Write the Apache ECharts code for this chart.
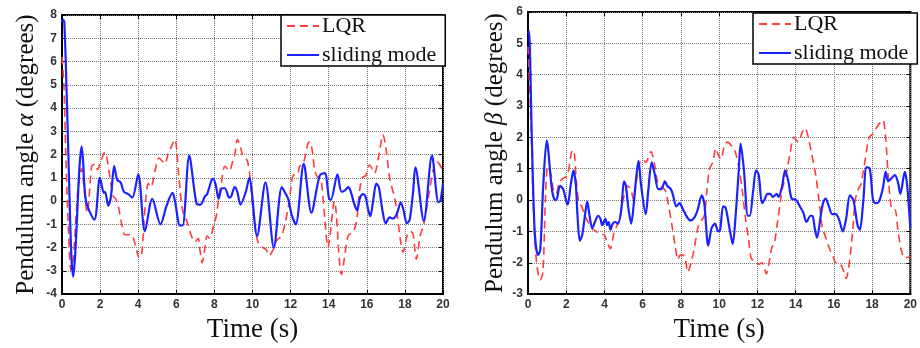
<!DOCTYPE html>
<html><head><meta charset="utf-8">
<script src="https://cdn.jsdelivr.net/npm/echarts@6/dist/echarts.min.js"></script>
<style>html,body{margin:0;padding:0;background:#fff}#c{width:920px;height:348px}</style>
</head><body><div id="c"></div>
<script>
// Pendulum angle alpha, sliding mode controller [time s, degrees]
const alphaSliding = [[0,7.7],[0.05,7.8],[0.12,7.7],[0.25,4.5],[0.4,0],[0.5,-2.5],[0.59,-3.25],[0.7,-2.2],[0.8,-0.5],[0.92,1.5],[1.03,2.35],[1.1,1.8],
[1.26,0.0],[1.7,-0.8],[1.99,1.0],[2.2,0.35],[2.26,0.4],[2.43,-0.2],[2.57,0.2],[2.74,1.5],[2.9,0.9],[3.08,0.8],[3.25,0.4],[3.48,0.3],[3.69,0.15],[4.0,1.15],
[4.35,-1.3],[4.74,0.1],[5.17,-1.0],[5.49,-0.2],[5.8,0.35],[5.93,0.0],[6.19,-1.05],[6.33,-1.05],[6.68,1.95],[7.06,-0.1],[7.27,-0.15],[7.5,0.2],[7.62,0.3],
[7.85,0.9],[7.94,0.95],[8.08,0.65],[8.22,0.1],[8.39,0.55],[8.55,0.55],[8.78,0.15],[8.88,0.2],[9.07,0.6],[9.2,0.4],[9.37,-0.15],[9.65,0.4],[9.83,1.0],
[10.24,-1.5],[10.68,0.8],[11.12,-2.0],[11.54,0.6],[11.75,0.3],[11.87,0.1],[12.06,-0.6],[12.27,-1.0],[12.69,1.6],[13.09,-0.5],[13.53,1.1],[13.79,1.2],
[14.02,0.1],[14.11,0.05],[14.46,1.15],[14.67,0.4],[14.84,0.45],[15.02,0.6],[15.14,0.45],[15.37,-0.2],[15.49,-0.4],[15.63,0.1],[15.8,0.3],[15.93,0.2],
[16.08,-0.4],[16.19,-0.65],[16.33,0.0],[16.5,0.75],[16.63,0.6],[16.82,-0.4],[16.99,-0.95],[17.2,-0.7],[17.38,-0.75],[17.55,-0.6],[17.64,-0.4],[17.78,-0.05],
[17.9,-0.3],[18.11,-0.95],[18.25,-0.8],[18.43,0.4],[18.55,1.45],[18.99,-0.85],[19.42,1.95],[19.76,-0.05],[19.86,0.0],[20,0.75]];

// Pendulum angle alpha, LQR controller
const alphaLqr = [[0,6.2],[0.1,5.0],[0.2,2.0],[0.35,-1.5],[0.47,-2.97],[0.58,-2.6],[0.75,-0.5],[0.85,0.6],[1.03,1.4],[1.1,1.0],[1.33,-0.5],[1.56,1.5],
[1.73,1.6],[1.87,1.35],[1.99,1.6],[2.26,2.1],[2.34,1.95],[2.52,1.0],[2.69,0.2],[2.81,0.1],[2.95,-0.2],[3.16,-1.1],[3.3,-1.45],[3.57,-1.45],[3.71,-1.5],
[3.88,-2.0],[4.06,-2.45],[4.18,-2.3],[4.3,-1.0],[4.41,0.2],[4.53,0.75],[4.67,0.6],[4.88,1.3],[5.1,1.85],[5.28,1.7],[5.4,1.6],[5.61,2.15],[5.72,2.3],
[5.93,2.65],[6.01,2.3],[6.14,1.0],[6.33,-0.4],[6.57,-0.9],[6.75,-1.4],[6.98,-1.75],[7.15,-1.6],[7.24,-2.1],[7.36,-2.65],[7.47,-2.2],[7.62,-1.5],
[7.76,-1.6],[7.97,-1.0],[8.11,-0.6],[8.25,0.3],[8.37,0.8],[8.55,1.5],[8.78,1.3],[8.99,1.8],[9.07,2.0],[9.21,2.65],[9.37,2.3],[9.51,1.9],[9.72,1.75],
[9.86,1.1],[9.98,0.0],[10.12,-1.0],[10.3,-1.8],[10.56,-2.0],[10.73,-2.1],[10.87,-2.35],[11.08,-2.1],[11.26,-1.7],[11.52,-1.5],[11.7,-1.0],[11.87,-0.3],
[12.01,0.5],[12.13,1.1],[12.36,1.15],[12.48,1.5],[12.66,1.6],[12.92,2.5],[13.01,2.55],[13.15,2.1],[13.27,1.3],[13.44,1.0],[13.6,0.9],[13.8,-0.8],
[13.96,-2.0],[14.3,0.0],[14.67,-3.15],[15.02,-1.5],[15.3,-1.3],[15.45,-0.9],[15.54,-0.3],[15.63,0.5],[15.77,1.0],[15.95,1.1],[16.15,1.55],[16.4,1.2],
[16.64,2.0],[16.85,2.85],[17.0,2.3],[17.2,1.0],[17.47,0.1],[17.6,-0.6],[17.75,-1.6],[17.9,-2.2],[18.11,-1.5],[18.29,-1.3],[18.42,-1.4],[18.6,-2.5],
[18.8,-1.5],[18.99,-1.0],[19.3,0.5],[19.53,1.5],[19.68,1.7],[20,1.3]];

// Pendulum angle beta, sliding mode controller
const betaSliding = [[0,5.3],[0.05,5.4],[0.2,2.0],[0.35,-1.0],[0.52,-1.75],[0.64,-1.6],[0.8,0.5],[0.98,1.9],[1.26,0.3],[1.43,0.0],[1.52,0.05],[1.67,0.45],
[1.84,0.35],[2.07,-0.15],[2.24,0.5],[2.38,0.95],[2.5,0.5],[2.59,-0.5],[2.71,-1.3],[2.84,-1.1],[3.02,-0.3],[3.1,-0.05],[3.22,-0.5],[3.36,-0.9],[3.5,-0.7],
[3.67,-0.5],[3.79,-0.6],[3.88,-0.8],[4.05,-0.6],[4.14,-0.8],[4.22,-0.7],[4.31,-0.95],[4.43,-0.75],[4.57,-0.7],[4.71,-0.75],[4.88,-0.3],[5.02,0.6],
[5.12,0.45],[5.26,-0.3],[5.4,-0.75],[5.52,-0.2],[5.64,0.6],[5.78,1.25],[5.91,0.5],[6.16,-0.45],[6.29,0.3],[6.47,1.2],[6.64,0.8],[6.81,0.35],[6.98,0.35],
[7.16,0.6],[7.29,0.45],[7.47,0.35],[7.59,0.15],[7.76,-0.2],[7.93,-0.1],[8.07,-0.25],[8.33,-0.55],[8.5,-0.65],[8.71,-0.55],[8.88,-0.3],[9.09,0.15],
[9.22,-0.1],[9.43,-1.45],[9.6,-0.9],[9.78,-0.75],[9.95,-1.0],[10.05,-0.95],[10.21,-0.2],[10.34,-0.25],[10.57,-1.0],[10.71,-1.4],[10.86,-0.5],[11.03,1.0],
[11.12,1.8],[11.29,1.0],[11.5,-0.5],[11.6,-0.5],[11.78,0.3],[11.93,0.95],[12.07,0.8],[12.24,-0.1],[12.36,0.0],[12.53,0.2],[12.67,0.2],[12.81,0.1],
[13.02,0.2],[13.1,0.1],[13.28,0.4],[13.45,0.95],[13.62,0.6],[13.79,0.05],[14.02,0.0],[14.22,-0.2],[14.4,-0.4],[14.57,-0.7],[14.78,-0.5],[14.88,-0.5],
[15.0,-0.9],[15.12,-1.2],[15.29,-0.6],[15.43,-0.1],[15.57,0.05],[15.74,-0.2],[15.91,-0.45],[16.09,-0.45],[16.26,-0.6],[16.47,-1.0],[16.64,-0.6],
[16.84,0.15],[17.02,0.0],[17.24,-0.8],[17.36,-0.95],[17.53,-0.1],[17.71,1.05],[17.88,1.0],[18.05,0.0],[18.19,-0.1],[18.36,-0.05],[18.57,0.4],[18.71,0.9],
[18.84,0.6],[19.02,0.7],[19.19,0.8],[19.36,0.55],[19.48,0.2],[19.71,0.9],[19.83,0.5],[20,-0.9]];

// Pendulum angle beta, LQR controller
const betaLqr = [[0,4.9],[0.15,2.5],[0.3,-0.5],[0.45,-2.0],[0.64,-2.55],[0.78,-2.3],[0.91,0.0],[1.03,1.05],[1.21,0.8],[1.33,0.3],[1.47,0.2],[1.64,0.55],
[1.84,0.7],[2.02,0.75],[2.12,0.95],[2.33,1.6],[2.43,1.45],[2.53,0.6],[2.67,-0.1],[2.81,-0.2],[2.98,-0.5],[3.1,-0.65],[3.33,-0.9],[3.57,-1.0],[3.79,-1.1],
[3.97,-1.1],[4.14,-1.35],[4.31,-1.55],[4.48,-1.1],[4.66,-0.8],[4.78,-0.65],[4.91,-0.2],[5.05,0.2],[5.22,0.45],[5.4,0.3],[5.52,0.0],[5.69,0.7],[5.86,1.2],
[6.03,1.3],[6.16,1.2],[6.29,1.35],[6.43,1.55],[6.6,1.2],[6.81,0.5],[7.02,0.4],[7.19,0.3],[7.33,-0.1],[7.53,-0.8],[7.71,-1.5],[7.84,-1.9],[7.98,-1.75],
[8.19,-1.8],[8.36,-2.3],[8.53,-2.0],[8.71,-1.5],[8.88,-0.9],[9.02,-0.7],[9.22,-0.5],[9.36,0.3],[9.5,1.0],[9.66,1.2],[9.83,1.65],[9.95,1.45],[10.09,1.3],
[10.26,1.7],[10.43,1.85],[10.69,1.7],[10.86,1.5],[11.03,1.05],[11.21,0.3],[11.38,-0.6],[11.55,-1.3],[11.67,-1.85],[11.84,-1.95],[12.07,-2.05],[12.24,-2.0],
[12.47,-2.35],[12.64,-1.9],[12.76,-1.5],[12.88,-1.4],[13.05,-0.7],[13.19,-0.1],[13.28,0.3],[13.53,0.9],[13.71,1.5],[13.91,2.0],[14.14,1.85],[14.31,2.1],
[14.48,2.3],[14.6,2.15],[14.83,1.5],[15.05,0.8],[15.22,0.0],[15.4,-0.9],[15.52,-1.1],[15.74,-1.5],[15.95,-1.8],[16.12,-2.0],[16.26,-2.0],[16.47,-2.2],
[16.64,-2.5],[16.81,-2.0],[16.98,-1.0],[17.12,0.0],[17.24,0.3],[17.41,0.5],[17.59,1.1],[17.84,2.0],[18.02,2.1],[18.22,2.3],[18.45,2.5],[18.57,2.55],
[18.71,2.0],[18.84,0.8],[19.05,-0.3],[19.19,-0.3],[19.36,-1.0],[19.53,-1.6],[19.71,-1.85],[20,-1.8]];

const seriesNames = ['LQR', 'sliding mode'];
const xRange = [0, 20, 2];        // min, max, tick step
const alphaRange = [-4, 8, 1];
const betaRange = [-3, 6, 1];
const xTitle = 'Time (s)';
const alphaTitle = ['Pendulum angle ', 'α', ' (degrees)'];
const betaTitle = ['Pendulum angle ', 'β', ' (degrees)'];

const RED = '#ff3b3b', BLUE = '#1a22ff';
const serif = 'Liberation Serif';
const tickFont = {fontFamily: 'Liberation Sans', fontSize: 12, fontWeight: 'bold', color: '#333'};
const grid = {type: 'dotted', color: '#777', width: 1};

function xAx(gi, r, main, gap) {
  return {
    type: 'value', gridIndex: gi, min: r[0], max: r[1], interval: r[2],
    position: main ? 'bottom' : 'top',
    axisLine: {show: main, onZero: false, lineStyle: {color: '#000', width: 2}},
    axisTick: {show: true, inside: true, length: 4, lineStyle: {color: '#000'}},
    axisLabel: {show: main, margin: 5, ...tickFont},
    splitLine: {show: main, lineStyle: grid},
    name: main ? xTitle : '', nameLocation: 'middle', nameGap: gap || 16,
    nameTextStyle: {fontFamily: serif, fontSize: 27, color: '#111'}
  };
}
function yAx(gi, r, main, title, gap) {
  const st = {fontFamily: serif, fontSize: 25, color: '#111'};
  return {
    type: 'value', gridIndex: gi, min: r[0], max: r[1], interval: r[2],
    position: main ? 'left' : 'right',
    axisLine: {show: main, onZero: false, lineStyle: {color: '#000', width: 2}},
    axisTick: {show: true, inside: true, length: 4, lineStyle: {color: '#000'}},
    axisLabel: {show: main, margin: 5, ...tickFont},
    splitLine: {show: main, lineStyle: grid},
    name: main ? '{n|' + title[0] + '}{g|' + title[1] + '}{n|' + title[2] + '}' : '',
    nameLocation: 'middle', nameGap: gap,
    nameTextStyle: {rich: {n: st, g: {...st, fontStyle: 'italic'}}}
  };
}
function ser(name, data, xi, yi) {
  const lqr = name === seriesNames[0];
  return {
    name, type: 'line', data, xAxisIndex: xi, yAxisIndex: yi, showSymbol: false, symbol: 'none',
    smooth: 0.3, animation: false, z: lqr ? 2 : 3,
    lineStyle: lqr ? {color: RED, width: 1.6, type: [8, 5]} : {color: BLUE, width: 2.2},
    itemStyle: {color: lqr ? RED : BLUE}
  };
}
function legend(left, top) {
  return {
    data: seriesNames, orient: 'vertical', left, top,
    backgroundColor: '#fff', borderColor: '#000', borderWidth: 1.5, borderRadius: 0,
    padding: [0, 9, 0, 5], itemWidth: 32, itemHeight: 12, itemGap: 7,
    itemStyle: {opacity: 0},
    textStyle: {fontFamily: serif, fontSize: 22, color: '#111', lineHeight: 20, padding: [0, 0, 0, -2]},
    selectedMode: false
  };
}

const chart = echarts.init(document.getElementById('c'), null, {renderer: 'canvas'});
chart.setOption({
  animation: false,
  backgroundColor: '#fff',
  grid: [
    {left: 62, top: 15, width: 381, height: 283, show: true, borderColor: '#000', borderWidth: 2, backgroundColor: '#fff'},
    {left: 528, top: 12, width: 387, height: 288, show: true, borderColor: '#000', borderWidth: 2, backgroundColor: '#fff'}
  ],
  legend: [legend(281, 15), legend(753, 13)],
  xAxis: [xAx(0, xRange, true, 16), xAx(0, xRange, false), xAx(1, xRange, true, 19), xAx(1, xRange, false)],
  yAxis: [yAx(0, alphaRange, true, alphaTitle, 23), yAx(0, alphaRange, false), yAx(1, betaRange, true, betaTitle, 20), yAx(1, betaRange, false)],
  series: [
    ser(seriesNames[0], alphaLqr, 0, 0), ser(seriesNames[1], alphaSliding, 0, 0),
    ser(seriesNames[0], betaLqr, 2, 2), ser(seriesNames[1], betaSliding, 2, 2)
  ]
});
</script></body></html>
